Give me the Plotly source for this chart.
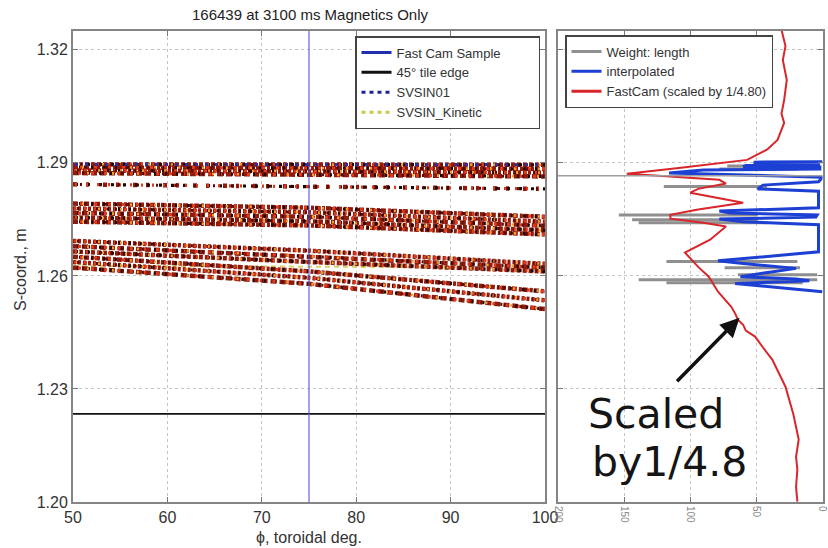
import plotly.graph_objects as go

# ---------------- data ----------------
title_text = "166439 at 3100 ms Magnetics Only"
phi_ticks = [50, 60, 70, 80, 90, 100]
s_ticks = [1.20, 1.23, 1.26, 1.29, 1.32]
s_tick_labels = ["1.20", "1.23", "1.26", "1.29", "1.32"]
w_ticks = [0, 50, 100, 150, 200]

fast_cam_phi = 75.0
tile_edge_s = 1.2234
svsin01_phi = [50, 100]
svsin01_s = [1.2896, 1.2895]
svsin_kin_phi = [50, 100]
svsin_kin_s = [1.2627, 1.2622]

# strike-point bands: each strand = S at phi = 50, 75, 100
strand_phi = [50, 75, 100]
band_top = [
    [1.2896, 1.2896, 1.2895],
    [1.2888, 1.2887, 1.2884],
    [1.2880, 1.2878, 1.2874],
    [1.2873, 1.2869, 1.2864],
]
band_sparse = [
    [1.2843, 1.2837, 1.2831],
]
band_mid = [
    [1.2792, 1.2781, 1.2757],
    [1.2779, 1.2769, 1.2744],
    [1.2767, 1.2757, 1.2733],
    [1.2755, 1.2745, 1.2721],
    [1.2744, 1.2734, 1.2710],
]
band_low_upper = [
    [1.2693, 1.2667, 1.2632],
    [1.2679, 1.2652, 1.2622],
    [1.2665, 1.2637, 1.2612],
]
band_low_lower = [
    [1.2651, 1.2612, 1.2559],
    [1.2637, 1.2595, 1.2535],
    [1.2622, 1.2579, 1.2512],
]

# right panel
red_s = [1.3253, 1.3210, 1.3173, 1.3120, 1.3067, 1.3030, 1.3006, 1.2961, 1.2935,
         1.2908, 1.2887, 1.2876, 1.2871, 1.2866, 1.2855, 1.2845, 1.2831, 1.2821,
         1.2807, 1.2794, 1.2776, 1.2762, 1.2752, 1.2741, 1.2731, 1.2696, 1.2662,
         1.2624, 1.2598, 1.2558, 1.2518, 1.2500, 1.2484, 1.2470, 1.2455, 1.2439,
         1.2410, 1.2378, 1.2306, 1.2232, 1.2166, 1.2120, 1.2086, 1.2040, 1.2001]
red_v = [31, 28, 30, 27, 29, 31, 29, 34, 42,
         57, 107, 139, 148, 124, 78, 73, 94, 100,
         79, 60, 94, 115, 115, 90, 73, 85, 104,
         94, 86, 79, 69, 66, 64, 60, 58, 51,
         45, 38, 28, 22, 18, 20, 19, 20, 19]

blue_s = [1.2903, 1.2902, 1.2899, 1.2898, 1.2894, 1.2893, 1.2890, 1.2889, 1.2884,
          1.2881, 1.2873, 1.2868, 1.2862, 1.2850, 1.2841, 1.2831, 1.2825, 1.2781,
          1.2772, 1.2767, 1.2762, 1.2756, 1.2751, 1.2744, 1.2736, 1.2664, 1.2640,
          1.2633, 1.2620, 1.2610, 1.2598, 1.2592, 1.2587, 1.2580, 1.2570, 1.2558]
blue_v = [0, 52, 50, 3, 3, 58, 60, 2, 2,
          90, 116, 60, 0, 3, 45, 49, 3, 3,
          78, 70, 4, 5, 78, 60, 3, 3, 79,
          60, 20, 40, 62, 20, 10, 66, 35, 0]

gray_s = [1.2892, 1.2884, 1.2837, 1.2762, 1.2749, 1.2741, 1.2638, 1.2622, 1.2603, 1.2590, 1.2582]
gray_v_outer = [72, 78, 120, 154, 144, 139, 118, 74, 64, 139, 118]
gray_v_inner = [27, 19, 42, 49, 49, 42, 19, 17, 4, 4, 15]
gray_ref_s = 1.2866

arrow_head_v = 62.7
arrow_head_s = 1.2489

# ---------------- figure ----------------
FONT = "Liberation Sans, Arial, sans-serif"
fig = go.Figure()

# SVSIN_Kinetic (under the bands)
fig.add_trace(go.Scatter(x=svsin_kin_phi, y=svsin_kin_s, mode="lines",
                         line=dict(color="#d6d46a", width=2, dash="5px,4px"),
                         showlegend=False, hoverinfo="skip", xaxis="x", yaxis="y"))

layers = [
    dict(color="#8e1b0c", width=4.5, dash=["4px,2px", "5px,2px,3px,1px", "3px,2px", "6px,3px"]),
    dict(color="#1c0602", width=3.2, dash=["0px,4px,2px,5px", "0px,2px,3px,7px", "0px,6px,2px,4px", "0px,1px,2px,8px"]),
    dict(color="#e2391b", width=3.2, dash=["0px,1px,3px,6px", "0px,5px,3px,5px", "0px,2px,2px,7px", "0px,7px,3px,4px"]),
    dict(color="#f0a02a", width=2.6, dash=["0px,9px,2px,13px", "0px,3px,2px,17px", "0px,14px,2px,9px", "0px,6px,2px,15px"]),
    dict(color="#5a0a04", width=3.0, dash=["0px,7px,2px,10px", "0px,11px,3px,7px", "0px,4px,2px,13px", "0px,9px,2px,9px"]),
]

all_strands = band_top + band_sparse + band_mid + band_low_upper + band_low_lower
for i, s_vals in enumerate(all_strands):
    sparse = s_vals in band_sparse
    for j, lay in enumerate(layers):
        dash = lay["dash"][(i + j) % len(lay["dash"])]
        if sparse:
            if j == 0:
                dash = "4px,9px,3px,14px"
            elif j == 3:
                continue
        fig.add_trace(go.Scatter(x=strand_phi, y=s_vals, mode="lines",
                                 line=dict(color=lay["color"], width=lay["width"], dash=dash),
                                 showlegend=False, hoverinfo="skip", xaxis="x", yaxis="y"))

# SVSIN01 dashed (over the top band)
fig.add_trace(go.Scatter(x=svsin01_phi, y=svsin01_s, mode="lines",
                         line=dict(color="#2e2e9c", width=3.2, dash="0px,2px,3px,5px"),
                         showlegend=False, hoverinfo="skip", xaxis="x", yaxis="y"))

# 45 deg tile edge
fig.add_trace(go.Scatter(x=[phi_ticks[0], phi_ticks[-1]], y=[tile_edge_s, tile_edge_s], mode="lines",
                         line=dict(color="#111111", width=1.6),
                         showlegend=False, hoverinfo="skip", xaxis="x", yaxis="y"))
# fast cam sample
fig.add_trace(go.Scatter(x=[fast_cam_phi, fast_cam_phi], y=[1.20, 1.325], mode="lines",
                         line=dict(color="rgba(90,90,215,0.75)", width=1.5),
                         showlegend=False, hoverinfo="skip", xaxis="x", yaxis="y"))

# legend-only entries (left)
PAD = "\u00a0" * 9
for name, col, dash, w in [("Fast Cam Sample" + PAD, "#1f2fb0", "solid", 3),
                           ("45\u00b0 tile edge", "#111111", "solid", 3),
                           ("SVSIN01", "#1f1f9a", "4px,4px", 3),
                           ("SVSIN_Kinetic", "#c9c94a", "4px,4px", 3)]:
    fig.add_trace(go.Scatter(x=[None], y=[None], mode="lines", name=name,
                             line=dict(color=col, width=w, dash=dash),
                             legend="legend", xaxis="x", yaxis="y"))

# right panel: gray weight segments
gx, gy = [], []
for s, vo, vi in zip(gray_s, gray_v_outer, gray_v_inner):
    gx += [vo, vi, None]
    gy += [s, s, None]
fig.add_trace(go.Scatter(x=gx, y=gy, mode="lines", line=dict(color="#8f8f8f", width=3),
                         showlegend=False, hoverinfo="skip", xaxis="x2", yaxis="y2"))
fig.add_trace(go.Scatter(x=blue_v, y=blue_s, mode="lines", line=dict(color="#1c3fd4", width=3),
                         showlegend=False, hoverinfo="skip", xaxis="x2", yaxis="y2"))
fig.add_trace(go.Scatter(x=red_v, y=red_s, mode="lines", line=dict(color="#d8262a", width=2),
                         showlegend=False, hoverinfo="skip", xaxis="x2", yaxis="y2"))

for name, col in [("Weight: length", "#8f8f8f"), ("interpolated", "#1c3fd4"),
                  ("FastCam (scaled by 1/4.80)", "#d8262a")]:
    fig.add_trace(go.Scatter(x=[None], y=[None], mode="lines", name=name,
                             line=dict(color=col, width=3),
                             legend="legend2", xaxis="x2", yaxis="y2"))

fig.add_shape(type="line", xref="x2 domain", yref="y2", x0=0, x1=1,
              y0=gray_ref_s, y1=gray_ref_s, line=dict(color="#a0a0a0", width=1.5))

ydom = [1 - 502 / 548, 1 - 31 / 548]
axis_common = dict(showline=True, mirror="ticks", linecolor="#858585", linewidth=2,
                   ticks="inside", ticklen=5, tickcolor="#777", zeroline=False,
                   showgrid=True, gridcolor="#c4c4c4", griddash="dot", gridwidth=1,
                   automargin=False)

fig.update_layout(
    width=828, height=548,
    margin=dict(l=0, r=0, t=0, b=0, autoexpand=False),
    paper_bgcolor="white", plot_bgcolor="white",
    font=dict(family=FONT, color="#333"),
    xaxis=dict(domain=[73 / 828, 545 / 828], range=[50, 100], tickvals=phi_ticks,
               tickfont=dict(size=16, color="#333"), anchor="y", **axis_common),
    yaxis=dict(domain=ydom, range=[1.20, 1.325], tickvals=s_ticks, ticktext=s_tick_labels,
               tickfont=dict(size=16, color="#333"), anchor="x", **axis_common),
    xaxis2=dict(domain=[558 / 828, 822.5 / 828], range=[200, 0], tickvals=w_ticks,
                tickangle=90, tickfont=dict(size=10, color="#888"), anchor="y2",
                ticklabeloverflow="allow", **axis_common),
    yaxis2=dict(domain=ydom, matches="y", range=[1.20, 1.325], tickvals=s_ticks,
                showticklabels=False, anchor="x2", **axis_common),
    legend=dict(x=355 / 828, y=1 - 36 / 548, xanchor="left", yanchor="top",
                bgcolor="white", bordercolor="#444", borderwidth=1.5,
                font=dict(size=13, family=FONT, color="#333"), itemwidth=30,
                tracegroupgap=0),
    legend2=dict(x=565 / 828, y=1 - 35 / 548, xanchor="left", yanchor="top",
                 bgcolor="white", bordercolor="#444", borderwidth=1.5,
                 font=dict(size=13, family=FONT, color="#333"), itemwidth=30,
                 tracegroupgap=0),
    showlegend=True,
)

fig.add_annotation(text=title_text, xref="paper", yref="paper", x=310 / 828, y=1 - 15 / 548,
                   xanchor="center", yanchor="middle",
                   showarrow=False, font=dict(size=15, color="#222", family=FONT))
fig.add_annotation(text="\u03d5, toroidal deg.", xref="paper", yref="paper", x=309 / 828,
                   y=1 - 537 / 548, xanchor="center", yanchor="middle",
                   showarrow=False, font=dict(size=16, color="#333", family=FONT))
fig.add_annotation(text="S-coord., m", xref="paper", yref="paper", x=20 / 828, y=1 - 270 / 548,
                   xanchor="center", yanchor="middle",
                   showarrow=False, textangle=-90, font=dict(size=16, color="#333", family=FONT))

fig.add_annotation(text="Scaled", xref="paper", yref="paper", x=586 / 828, y=1 - 414 / 548,
                   xanchor="left", yanchor="middle", showarrow=False,
                   font=dict(size=41, color="#151515", family="DejaVu Sans"))
fig.add_annotation(text="by1/4.8", xref="paper", yref="paper", x=590 / 828, y=1 - 462 / 548,
                   xanchor="left", yanchor="middle", showarrow=False,
                   font=dict(size=41, color="#151515", family="DejaVu Sans"))
fig.add_annotation(x=arrow_head_v, y=arrow_head_s, xref="x2", yref="y2", text="",
                   showarrow=True, ax=-64, ay=65, arrowhead=2, arrowsize=1.1,
                   arrowwidth=3.5, arrowcolor="#111")

fig.write_html("out.html", config={"displayModeBar": False},
               post_script="document.body.style.margin='0';")
